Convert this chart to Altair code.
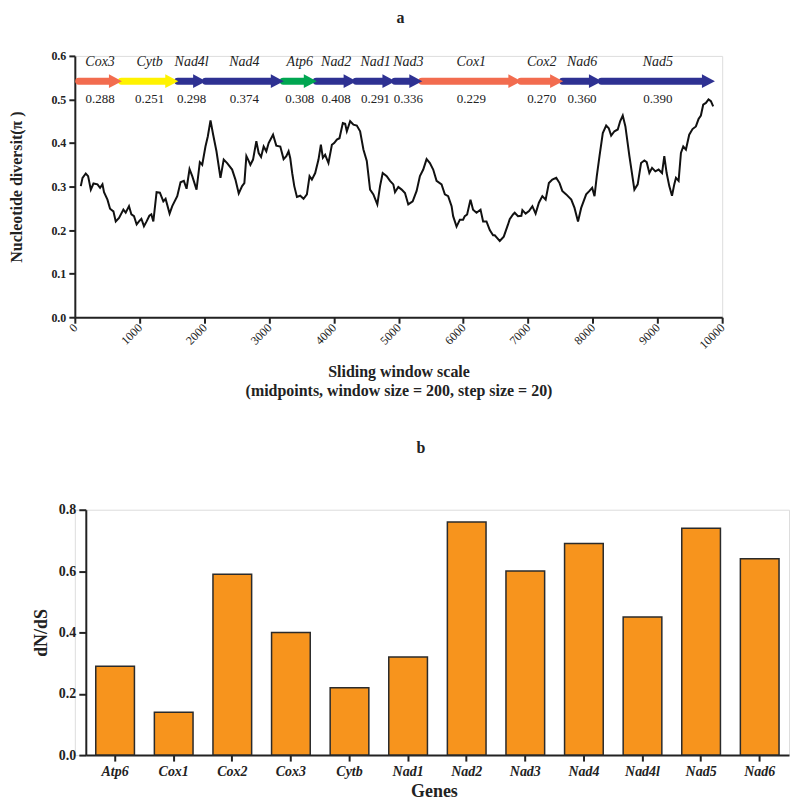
import altair as alt
import pandas as pd

SERIF = "Liberation Serif"

# ---------------- panel a : sliding-window nucleotide diversity ----------------
win_mid = [92, 119, 169, 205, 247, 288, 350, 390, 427, 451, 504, 544, 596, 632, 683, 750, 786, 837, 874, 914,
           955, 991, 1028, 1068, 1109, 1151, 1182, 1213, 1263, 1314, 1367, 1402, 1464, 1505, 1582, 1633, 1684, 1726, 1772, 1814,
           1880, 1931, 1968, 2018, 2054, 2096, 2137, 2188, 2250, 2300, 2353, 2430, 2481, 2532, 2584, 2619, 2650, 2686, 2712, 2753,
           2804, 2840, 2877, 2917, 2958, 2994, 3062, 3112, 3174, 3225, 3267, 3302, 3328, 3359, 3390, 3431, 3482, 3533, 3585, 3626,
           3662, 3713, 3764, 3801, 3832, 3867, 3918, 3971, 4006, 4048, 4088, 4140, 4176, 4202, 4253, 4304, 4356, 4407, 4458, 4510,
           4561, 4612, 4673, 4715, 4756, 4818, 4869, 4920, 4946, 4997, 5049, 5100, 5151, 5219, 5280, 5331, 5382, 5434, 5485, 5536,
           5588, 5665, 5716, 5767, 5820, 5844, 5897, 5948, 5998, 6024, 6060, 6112, 6152, 6205, 6267, 6307, 6359, 6410, 6461, 6487,
           6522, 6564, 6626, 6692, 6718, 6769, 6795, 6846, 6898, 6914, 6964, 7016, 7068, 7118, 7169, 7222, 7273, 7323, 7376, 7437,
           7488, 7530, 7591, 7669, 7719, 7773, 7822, 7899, 7950, 7992, 8028, 8063, 8105, 8156, 8208, 8248, 8285, 8336, 8387, 8424,
           8464, 8505, 8567, 8644, 8695, 8747, 8798, 8834, 8875, 8917, 8968, 9018, 9071, 9106, 9142, 9183, 9225, 9260, 9286, 9327,
           9363, 9399, 9440, 9491, 9542, 9594, 9635, 9671, 9707, 9749, 9789, 9826, 9861]
pi_vals = [0.301, 0.320, 0.330, 0.324, 0.293, 0.307, 0.305, 0.297, 0.305, 0.287, 0.270, 0.249, 0.243, 0.220, 0.228, 0.247, 0.240, 0.255, 0.236, 0.232,
           0.213, 0.220, 0.226, 0.209, 0.220, 0.233, 0.236, 0.220, 0.287, 0.286, 0.266, 0.272, 0.238, 0.255, 0.278, 0.310, 0.313, 0.295, 0.340, 0.324,
           0.293, 0.356, 0.350, 0.392, 0.415, 0.452, 0.419, 0.381, 0.320, 0.362, 0.354, 0.339, 0.316, 0.284, 0.301, 0.308, 0.370, 0.359, 0.350, 0.362,
           0.404, 0.377, 0.368, 0.392, 0.381, 0.400, 0.419, 0.394, 0.392, 0.363, 0.370, 0.381, 0.365, 0.330, 0.301, 0.276, 0.279, 0.272, 0.282, 0.324,
           0.316, 0.331, 0.362, 0.396, 0.366, 0.373, 0.354, 0.396, 0.400, 0.408, 0.411, 0.446, 0.444, 0.427, 0.450, 0.442, 0.440, 0.427, 0.385, 0.359,
           0.293, 0.282, 0.259, 0.301, 0.331, 0.324, 0.313, 0.305, 0.287, 0.299, 0.293, 0.285, 0.259, 0.266, 0.290, 0.324, 0.339, 0.363, 0.354, 0.339,
           0.313, 0.305, 0.282, 0.278, 0.255, 0.232, 0.208, 0.224, 0.224, 0.232, 0.236, 0.270, 0.247, 0.240, 0.247, 0.220, 0.220, 0.200, 0.188, 0.188,
           0.182, 0.175, 0.185, 0.213, 0.225, 0.236, 0.240, 0.232, 0.233, 0.246, 0.238, 0.244, 0.255, 0.238, 0.263, 0.278, 0.270, 0.308, 0.316, 0.320,
           0.308, 0.290, 0.282, 0.270, 0.251, 0.220, 0.251, 0.282, 0.290, 0.297, 0.278, 0.324, 0.370, 0.423, 0.440, 0.434, 0.417, 0.427, 0.431, 0.450,
           0.463, 0.438, 0.370, 0.293, 0.305, 0.354, 0.360, 0.356, 0.331, 0.343, 0.335, 0.339, 0.331, 0.370, 0.331, 0.301, 0.279, 0.305, 0.320, 0.313,
           0.377, 0.392, 0.385, 0.419, 0.432, 0.438, 0.455, 0.463, 0.488, 0.492, 0.500, 0.496, 0.484]

gene_names = ["Cox3", "Cytb", "Nad4l", "Nad4", "Atp6", "Nad2", "Nad1", "Nad3", "Cox1", "Cox2", "Nad6", "Nad5"]
gene_start = [60, 720, 1590, 2020, 3220, 3730, 4345, 4945, 5360, 6890, 7535, 8135]
gene_end = [720, 1590, 2020, 3220, 3730, 4345, 4945, 5360, 6890, 7535, 8135, 9880]
gene_pi = ["0.288", "0.251", "0.298", "0.374", "0.308", "0.408", "0.291", "0.336", "0.229", "0.270", "0.360", "0.390"]
gene_family = ["Cox", "Cytb", "Nad", "Nad", "Atp", "Nad", "Nad", "Nad", "Cox", "Cox", "Nad", "Nad"]

family_domain = ["Cox", "Cytb", "Nad", "Atp"]
family_colors = ["#F26C4F", "#FFF200", "#2E3192", "#00A651"]

# ---------------- panel b : dN/dS ----------------
dnds_genes = ["Atp6", "Cox1", "Cox2", "Cox3", "Cytb", "Nad1", "Nad2", "Nad3", "Nad4", "Nad4l", "Nad5", "Nad6"]
dnds_vals = [0.29, 0.14, 0.59, 0.40, 0.22, 0.32, 0.76, 0.60, 0.69, 0.45, 0.74, 0.64]

pi_df = pd.DataFrame({"pos": win_mid, "pi": pi_vals})
gene_df = pd.DataFrame({"gene": gene_names, "start": gene_start, "end": gene_end,
                        "pi": gene_pi, "family": gene_family})
dnds_df = pd.DataFrame({"gene": dnds_genes, "dnds": dnds_vals})

xscale = alt.Scale(domain=[0, 10000], nice=False)
yscale = alt.Scale(domain=[0, 0.6], nice=False)
color = alt.Color("family:N", scale=alt.Scale(domain=family_domain, range=family_colors), legend=None)

xaxis_a = alt.Axis(values=list(range(0, 10001, 500)), format="d", labelAngle=-45, labelAlign="right",
                   labelBaseline="middle", labelFont=SERIF, labelFontSize=12, labelColor="#222", labelPadding=2,
                   tickSize=6, tickWidth=2, tickColor="#222", domainWidth=2, domainColor="#222", grid=False,
                   title=["Sliding window scale", "(midpoints, window size = 200, step size = 20)"],
                   titleFont=SERIF, titleFontSize=16, titleFontWeight="bold", titleColor="#222",
                   titleLineHeight=19, titlePadding=13)
yaxis_a = alt.Axis(values=[0, 0.1, 0.2, 0.3, 0.4, 0.5, 0.6], format=".1f",
                   labelFont=SERIF, labelFontSize=12, labelFontWeight="bold", labelColor="#222", labelPadding=3,
                   tickSize=6, tickWidth=2, tickColor="#222", domainWidth=2, domainColor="#222", grid=False,
                   title="Nucleotide diversit(π )", titleFont=SERIF, titleFontSize=16, titleFontWeight="bold",
                   titleColor="#222", titlePadding=26)

line = alt.Chart(pi_df).mark_line(color="#111", strokeWidth=2).encode(
    x=alt.X("pos:Q", scale=xscale, axis=xaxis_a),
    y=alt.Y("pi:Q", scale=yscale, axis=yaxis_a),
)

base_gene = alt.Chart(gene_df).transform_calculate(mid="(datum.start + datum.end) / 2")

bodies = base_gene.mark_rule(strokeWidth=7, strokeCap="round", x2Offset=-9).encode(
    x=alt.X("start:Q", scale=xscale),
    x2="end:Q",
    y=alt.datum(0.542),
    color=color,
)
heads = base_gene.mark_point(shape="M-1,-1.05L1,0L-1,1.05Z", size=170, filled=True, opacity=1,
                             strokeWidth=0, xOffset=-6).encode(
    x=alt.X("end:Q", scale=xscale),
    y=alt.datum(0.542),
    color=color,
)
names = base_gene.mark_text(font=SERIF, fontSize=14, fontStyle="italic", color="#222").encode(
    x=alt.X("mid:Q", scale=xscale),
    y=alt.datum(0.585),
    text="gene:N",
)
values = base_gene.mark_text(font=SERIF, fontSize=13, color="#222").encode(
    x=alt.X("mid:Q", scale=xscale),
    y=alt.datum(0.500),
    text="pi:N",
)

panel_a = alt.layer(line, bodies, heads, names, values).properties(
    width=649, height=262,
    title=alt.TitleParams("a", font=SERIF, fontSize=16, fontWeight="bold", color="#222",
                          anchor="middle", frame="group", offset=24, dx=2),
)

# ---------------- panel b ----------------
panel_b = alt.Chart(dnds_df).mark_bar(color="#F7941D", stroke="#2b2b2b", strokeWidth=1.5).encode(
    x=alt.X("gene:N", sort=dnds_genes,
            scale=alt.Scale(range=[11, 716], paddingInner=0.34, paddingOuter=0.17),
            axis=alt.Axis(labelAngle=0, labelFont=SERIF, labelFontSize=14, labelFontWeight="bold",
                          labelFontStyle="italic", labelColor="#222", labelPadding=3,
                          tickSize=6, tickWidth=2, tickColor="#222", domainWidth=2, domainColor="#222",
                          title="Genes", titleFont=SERIF, titleFontSize=18, titleFontWeight="bold",
                          titleColor="#222", titlePadding=5, titleX=360)),
    y=alt.Y("dnds:Q", scale=alt.Scale(domain=[0, 0.8], nice=False),
            axis=alt.Axis(values=[0, 0.2, 0.4, 0.6, 0.8], format=".1f", offset=-11,
                          labelFont=SERIF, labelFontSize=14, labelFontWeight="bold", labelColor="#222",
                          labelPadding=3, tickSize=7, tickWidth=2, tickColor="#222",
                          domainWidth=2, domainColor="#222", grid=False,
                          title="dN/dS", titleFont=SERIF, titleFontSize=18, titleFontWeight="bold",
                          titleColor="#222", titlePadding=8)),
).properties(
    width=716, height=246,
    title=alt.TitleParams("b", font=SERIF, fontSize=16, fontWeight="bold", color="#222",
                          anchor="middle", frame="group", offset=47, dx=-11),
)

chart = alt.concat(panel_a, panel_b, columns=1, spacing=40, align="none").properties(padding=0).configure_view(
    strokeWidth=0
).configure(background="white")

chart.save("out.html", embed_options={"renderer": "svg", "actions": False})
